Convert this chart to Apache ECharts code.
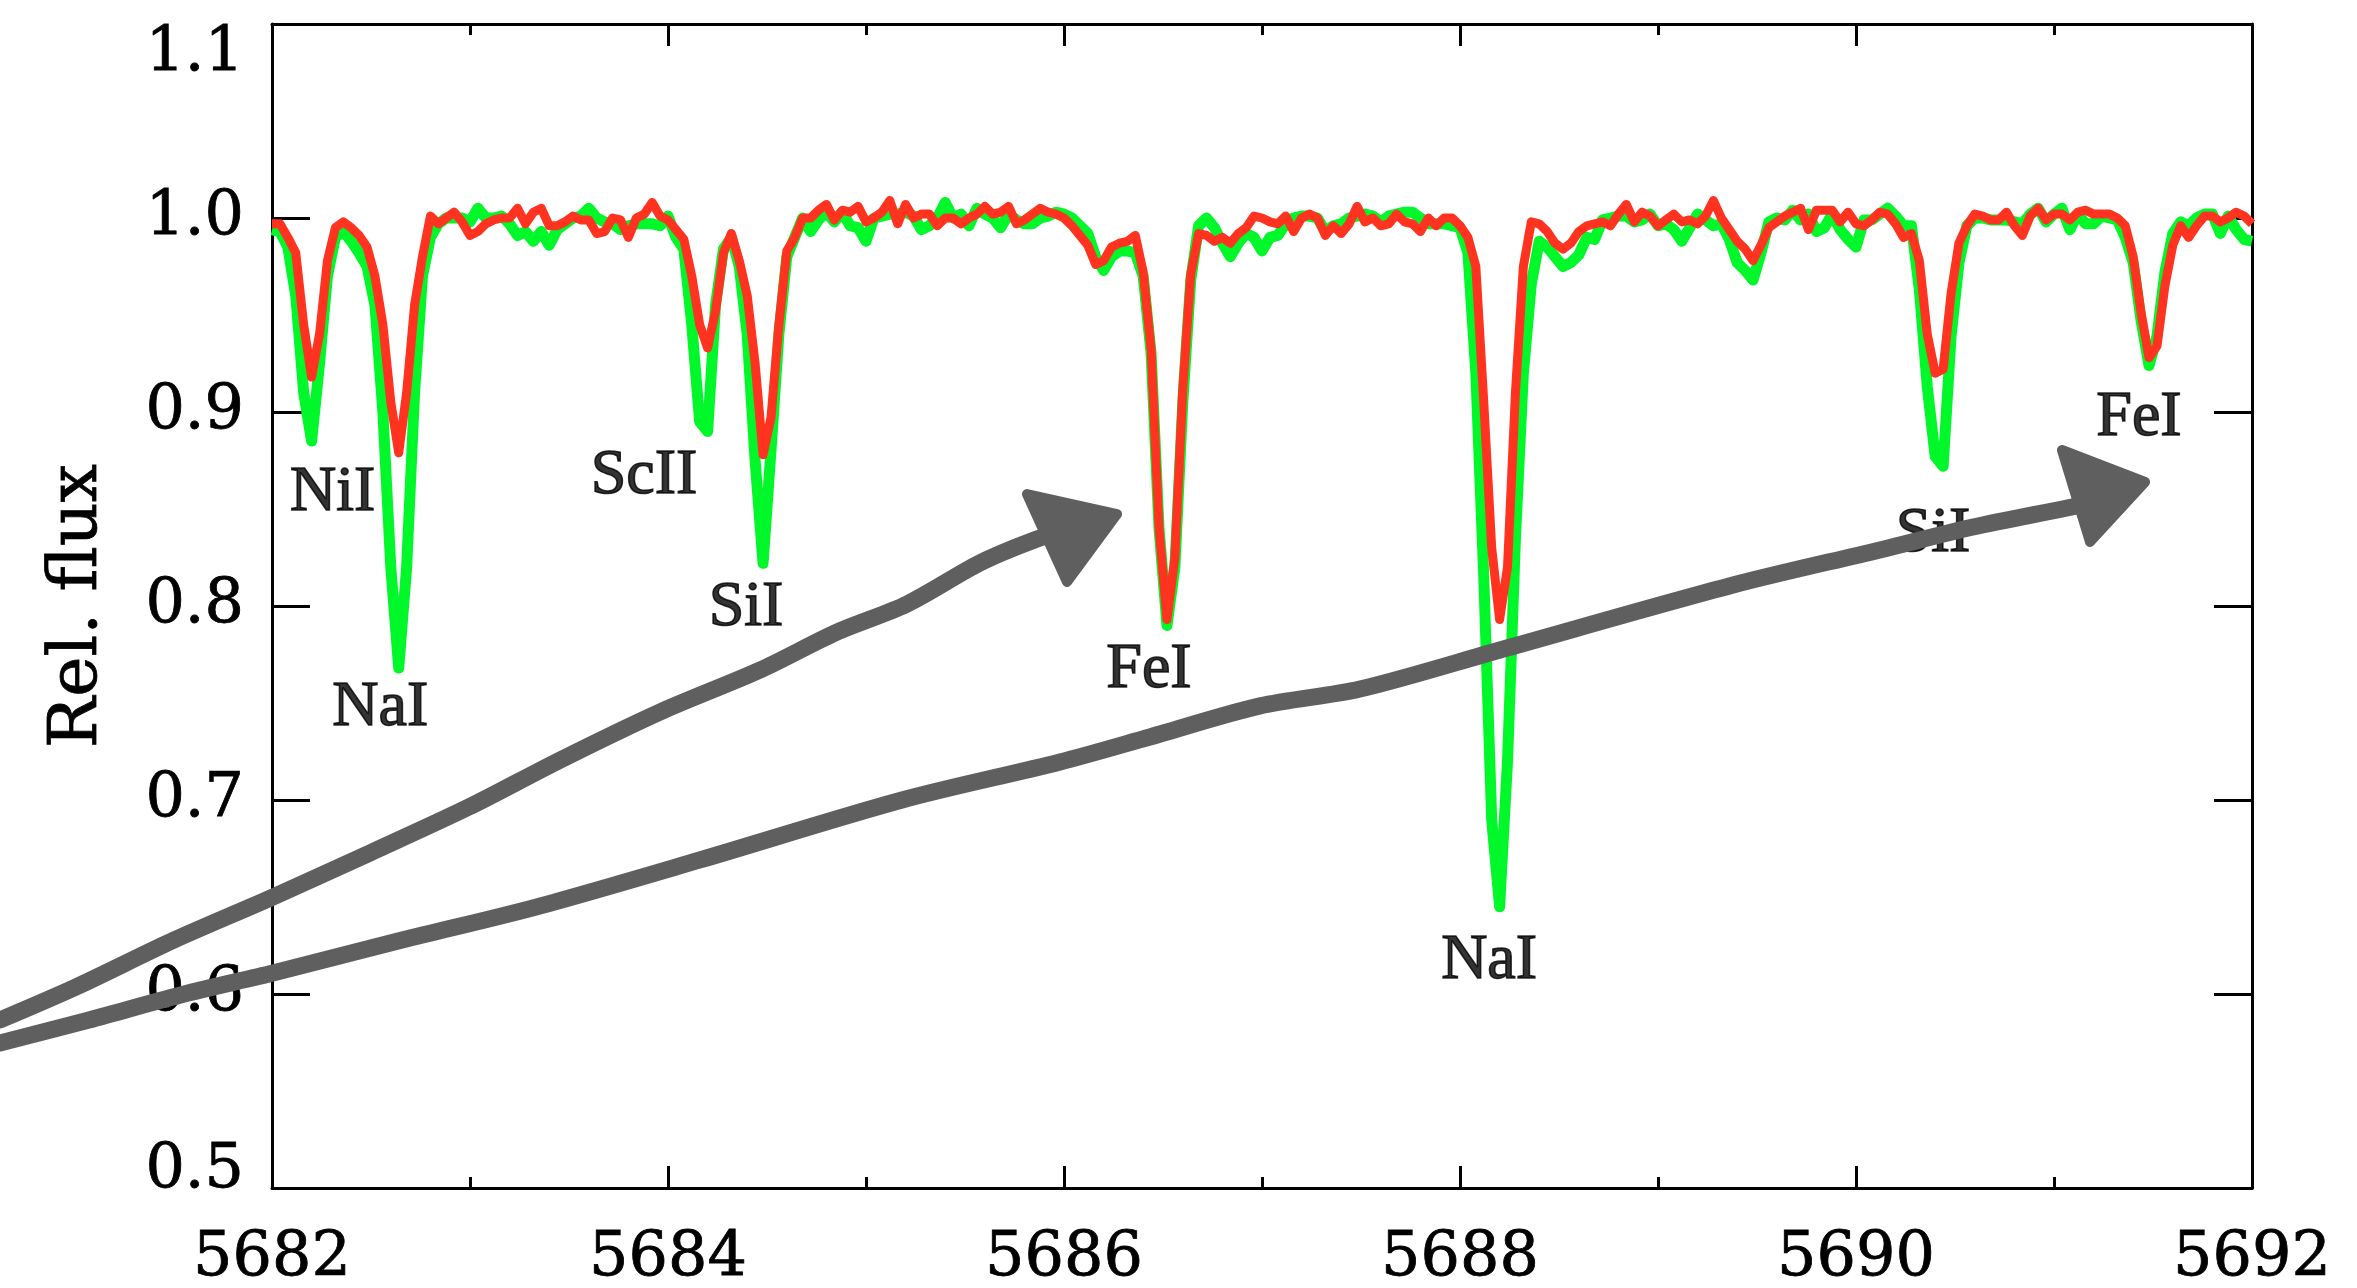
<!DOCTYPE html>
<html>
<head>
<meta charset="utf-8">
<script src="https://cdn.jsdelivr.net/npm/echarts@6/dist/echarts.min.js"></script>
<style>
html,body{margin:0;padding:0;background:#fff;}
#chart{width:2357px;height:1288px;}
</style>
</head>
<body>
<div id="chart"></div>
<script>
// Wavelength sampling of the spectra (Angstrom)
const wlStart = 5682.0;
const wlStep = 0.04;

// Relative flux, green spectrum
const fluxGreen = [
0.994,0.993,0.985,0.960,0.910,0.885,0.925,0.970,0.990,0.993,
0.988,0.982,0.975,0.955,0.900,0.820,0.768,0.820,0.910,0.970,
0.990,0.997,1.000,1.000,1.000,0.998,1.005,1.000,1.000,1.001,
0.997,0.991,0.993,0.988,0.993,0.986,0.994,0.997,1.000,1.001,
1.005,1.000,0.998,0.997,0.994,0.996,0.997,0.997,0.997,0.996,
1.001,0.990,0.984,0.945,0.895,0.890,0.955,0.984,0.990,0.975,
0.940,0.875,0.822,0.880,0.940,0.980,0.990,1.000,0.993,0.999,
1.003,0.998,1.003,0.996,0.995,0.988,1.000,1.001,1.002,1.002,
1.003,1.001,0.994,0.996,1.000,1.008,1.000,1.002,0.996,1.005,
1.002,1.000,0.995,1.002,0.999,0.997,0.997,1.000,1.001,1.003,
1.002,1.000,0.996,0.992,0.980,0.973,0.980,0.983,0.983,0.982,
0.970,0.930,0.840,0.790,0.820,0.905,0.968,0.996,1.000,0.995,
0.987,0.980,0.987,0.992,0.990,0.983,0.990,0.991,0.997,1.000,
1.001,1.001,1.000,0.993,0.996,0.997,1.000,1.001,1.002,1.001,
0.998,1.001,1.002,1.003,1.003,1.000,0.997,0.997,0.997,0.996,
0.995,0.982,0.920,0.815,0.690,0.645,0.720,0.835,0.920,0.966,
0.988,0.985,0.980,0.975,0.977,0.981,0.990,0.989,0.999,1.000,
1.001,1.001,0.998,0.999,1.002,0.996,0.997,0.994,0.988,0.995,
1.002,0.999,0.996,0.997,0.989,0.977,0.973,0.968,0.982,0.998,
1.000,0.999,1.004,0.999,1.002,0.993,0.995,1.002,0.994,0.989,
0.985,0.999,0.999,1.002,1.005,1.001,0.996,0.996,0.963,0.913,
0.877,0.872,0.939,0.977,0.996,1.000,1.000,0.999,0.999,0.999,
0.998,0.997,1.002,1.005,0.998,1.002,1.005,0.994,1.002,0.997,
0.997,1.001,1.000,0.999,0.990,0.977,0.947,0.924,0.939,0.972,
0.992,0.998,0.996,1.000,1.002,1.002,0.992,1.001,0.994,0.989,
0.988
];

// Relative flux, red spectrum
const fluxRed = [
0.997,0.997,0.990,0.982,0.945,0.918,0.940,0.978,0.995,0.998,
0.995,0.991,0.985,0.970,0.945,0.905,0.879,0.910,0.955,0.980,
1.001,0.997,1.000,1.003,0.998,0.991,0.993,0.997,0.999,1.000,
1.000,1.005,0.997,1.003,1.005,0.996,0.996,0.998,1.001,0.999,
0.999,0.992,0.993,1.000,0.999,0.990,1.000,1.002,1.008,1.001,
0.999,0.994,0.989,0.970,0.945,0.933,0.952,0.982,0.992,0.978,
0.960,0.925,0.878,0.897,0.945,0.983,0.990,1.000,1.000,1.004,
1.007,0.999,1.004,1.003,1.006,0.998,1.000,1.003,1.009,0.997,
1.007,1.000,1.002,1.002,0.996,1.000,1.000,0.997,1.000,1.002,
1.006,1.002,1.003,1.006,0.997,0.999,1.002,1.005,1.003,1.002,
1.000,0.996,0.991,0.986,0.976,0.978,0.985,0.987,0.988,0.991,
0.972,0.932,0.840,0.793,0.825,0.912,0.971,0.992,0.991,0.988,
0.990,0.987,0.992,0.995,1.001,1.000,0.998,0.997,1.001,0.993,
1.000,1.002,1.000,0.991,0.996,0.992,0.997,1.006,0.998,1.000,
0.996,0.997,1.002,0.998,0.997,0.993,1.000,0.996,1.000,1.000,
0.996,0.990,0.975,0.905,0.830,0.793,0.820,0.910,0.975,0.998,
0.997,0.993,0.987,0.984,0.987,0.993,0.996,0.997,0.998,0.996,
1.002,1.007,0.998,1.003,1.001,0.996,0.999,1.002,0.998,0.999,
0.997,1.001,1.009,1.000,0.994,0.988,0.984,0.978,0.986,0.995,
0.998,1.001,1.003,1.005,0.994,1.004,1.004,1.004,0.998,1.003,
0.997,0.996,0.999,1.003,1.002,0.997,0.990,0.992,0.978,0.940,
0.920,0.922,0.961,0.987,0.996,1.002,1.001,0.999,0.999,1.003,
0.996,0.991,1.001,1.005,0.999,1.002,1.002,0.999,1.003,1.004,
1.002,1.002,1.002,1.000,0.996,0.980,0.951,0.928,0.934,0.965,
0.986,0.996,0.990,0.996,1.001,1.001,0.998,1.000,1.003,1.001,
0.997
];

// Line identifications
const lineNames = ['NiI','NaI','ScII','SiI','FeI','NaI','SiI','FeI'];
const lineLabelX = [5682.306,5682.547,5683.879,5684.394,5686.429,5688.147,5690.389,5691.429];
const lineLabelY = [0.858,0.7475,0.867,0.799,0.767,0.617,0.837,0.897];

// Hand-drawn arrows: shaft points and arrow-head corners (data coordinates)
const arrow1X = [5680.626,5681.010,5681.505,5682.005,5682.495,5682.995,5683.455,5683.960,5684.465,5684.854,5685.207,5685.576,5685.864,5685.990];
const arrow1Y = [0.5866,0.6036,0.6278,0.6500,0.6727,0.6964,0.7206,0.7454,0.7670,0.7866,0.8010,0.8222,0.8345,0.8380];
const head1X = [5685.813,5686.268,5686.015];
const head1Y = [0.8577,0.8474,0.8124];
const arrow2X = [5680.626,5681.076,5681.576,5682.005,5682.657,5683.333,5684.162,5685.182,5685.980,5686.434,5686.990,5687.495,5688.202,5689.379,5690.121,5690.591,5691.066,5691.180];
const arrow2Y = [0.5747,0.5866,0.6005,0.6108,0.6278,0.6448,0.6691,0.7000,0.7196,0.7325,0.7485,0.7572,0.7773,0.8108,0.8289,0.8407,0.8505,0.8530];
const head2X = [5691.040,5691.460,5691.182];
const head2Y = [0.8804,0.8639,0.8330];

// Axis ranges / ticks
const xMin = 5682, xMax = 5692, xInterval = 2;
const yMin = 0.5, yMax = 1.1, yInterval = 0.1;

const toPairs = (arr) => arr.map((v, i) => [+(wlStart + i * wlStep).toFixed(2), v]);

const tickFont = 'DejaVu Serif';
const black = '#000';
const gray = '#5f5f5f';

const axisCommon = {
  type: 'value',
  axisLine: { show: true, onZero: false, lineStyle: { color: black, width: 3 } },
  splitLine: { show: false },
  minorSplitLine: { show: false }
};
const tickText = { fontSize: 62, fontFamily: tickFont, color: black, textBorderColor: black, textBorderWidth: 0.8 };

const chart = echarts.init(document.getElementById('chart'), null, { renderer: 'canvas' });
chart.setOption({
  backgroundColor: '#ffffff',
  animation: false,
  grid: { left: 272, right: 105, top: 24, bottom: 100, containLabel: false, outerBoundsMode: 'none' },
  xAxis: [
    Object.assign({}, axisCommon, {
      position: 'bottom', min: xMin, max: xMax, interval: xInterval,
      axisTick: { show: true, inside: true, length: 22, lineStyle: { color: black, width: 3 } },
      minorTick: { show: true, splitNumber: 2, length: 11, lineStyle: { color: black, width: 3 } },
      axisLabel: Object.assign({ show: true, margin: 40, formatter: (v) => String(Math.round(v)) }, tickText)
    }),
    Object.assign({}, axisCommon, {
      position: 'top', min: xMin, max: xMax, interval: xInterval,
      axisTick: { show: true, inside: true, length: 22, lineStyle: { color: black, width: 3 } },
      minorTick: { show: true, splitNumber: 2, length: 11, lineStyle: { color: black, width: 3 } },
      axisLabel: { show: false }
    })
  ],
  yAxis: [
    Object.assign({}, axisCommon, {
      position: 'left', min: yMin, max: yMax, interval: yInterval,
      axisTick: { show: true, inside: true, length: 38, lineStyle: { color: black, width: 3 } },
      axisLabel: Object.assign({ show: true, margin: 28,
        formatter: (v) => {
          const s = v.toFixed(1);
          if (Math.abs(v - yMax) < 1e-6) return '{hi|' + s + '}';
          if (Math.abs(v - yMin) < 1e-6) return '{lo|' + s + '}';
          return s;
        },
        rich: {
          hi: Object.assign({ padding: [60, 0, 0, 0] }, tickText),
          lo: Object.assign({ padding: [0, 0, 34, 0] }, tickText)
        }
      }, tickText),
      name: 'Rel. flux', nameLocation: 'middle', nameGap: 160,
      nameTextStyle: { fontSize: 68, fontFamily: tickFont, color: black, textBorderColor: black, textBorderWidth: 0.8 }
    }),
    Object.assign({}, axisCommon, {
      position: 'right', min: yMin, max: yMax, interval: yInterval,
      axisTick: { show: true, inside: true, length: 38, lineStyle: { color: black, width: 3 } },
      axisLabel: { show: false }
    })
  ],
  series: [
    {
      type: 'line', name: 'green', data: toPairs(fluxGreen), xAxisIndex: 0, yAxisIndex: 0,
      showSymbol: false, symbol: 'none', z: 2,
      lineStyle: { color: '#00f82a', width: 11, join: 'round' }
    },
    {
      type: 'line', name: 'red', data: toPairs(fluxRed), xAxisIndex: 0, yAxisIndex: 0,
      showSymbol: false, symbol: 'none', z: 3,
      lineStyle: { color: '#ff3320', width: 9, join: 'round' }
    },
    {
      type: 'scatter', name: 'ids', xAxisIndex: 0, yAxisIndex: 0, z: 4,
      symbolSize: 0, silent: true,
      data: lineNames.map((n, i) => ({ value: [lineLabelX[i], lineLabelY[i]], name: n })),
      label: { show: true, position: 'inside', formatter: (p) => p.name,
        fontSize: 64, fontFamily: 'Liberation Serif', color: black,
        textBorderColor: black, textBorderWidth: 1.6 }
    }
  ]
});

// Arrows: positioned through the chart's own axes (convertToPixel)
const toPx = (x, y) => chart.convertToPixel({ xAxisIndex: 0, yAxisIndex: 0 }, [x, y]);
const shaft = (xs, ys) => ({
  type: 'polyline', z: 100, silent: true,
  shape: { points: xs.map((x, i) => toPx(x, ys[i])), smooth: 0.3 },
  style: { stroke: gray, lineWidth: 17, lineCap: 'round', lineJoin: 'round', fill: null }
});
const head = (xs, ys) => ({
  type: 'polygon', z: 101, silent: true,
  shape: { points: xs.map((x, i) => toPx(x, ys[i])) },
  style: { fill: gray, stroke: gray, lineWidth: 10, lineJoin: 'round' }
});
chart.setOption({
  graphic: [
    shaft(arrow1X, arrow1Y), head(head1X, head1Y),
    shaft(arrow2X, arrow2Y), head(head2X, head2Y)
  ]
});
</script>
</body>
</html>
